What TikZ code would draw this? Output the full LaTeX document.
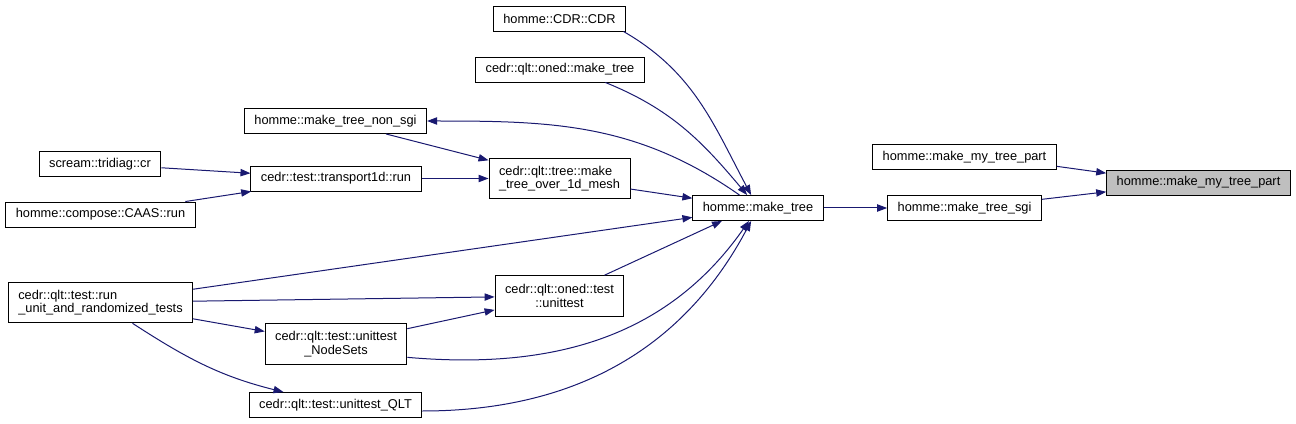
\documentclass[tikz,border=0pt]{standalone}
\usepackage{fontspec}
\setmainfont{Liberation Sans}
\usetikzlibrary{arrows.meta}
\definecolor{edgeblue}{HTML}{191970}
\definecolor{curfill}{HTML}{BFBFBF}
\tikzset{
  fn/.style={draw=black, line width=0.7pt, fill=white, inner xsep=7.5pt, inner ysep=2pt,
    minimum height=18.75pt, font=\fontsize{9.6}{10}\selectfont},
  fntwo/.style={fn, minimum height=30.5pt},
  call/.style={draw=edgeblue, line width=0.75pt, -{Triangle[length=7.5pt,width=5.5pt]}}
}

\begin{document}
\begin{tikzpicture}[x=0.75pt,y=-0.75pt]
  \useasboundingbox (0,0) rectangle (1296,424);
  % functions
  \node[fn,fill=curfill] (cur) at (1198.5,182.5) {homme::make\_my\_tree\_part};
  \node[fn] (mytp) at (964.5,157) {homme::make\_my\_tree\_part};
  \node[fn] (sgi) at (964.5,208) {homme::make\_tree\_sgi};
  \node[fn] (mtree) at (758,208) {homme::make\_tree};
  \node[fn] (cdr) at (559.5,18.5) {homme::CDR::CDR};
  \node[fn] (omake) at (560,69.5) {cedr::qlt::oned::make\_tree};
  \node[fn] (nonsgi) at (335.5,121) {homme::make\_tree\_non\_sgi};
  \node[fntwo,align=left] (mesh) at (559.5,178.5) {cedr::qlt::tree::make\\\_tree\_over\_1d\_mesh};
  \node[fn] (tport) at (336,178.5) {cedr::test::transport1d::run};
  \node[fn] (scream) at (100,164) {scream::tridiag::cr};
  \node[fn] (caas) at (100.5,214.5) {homme::compose::CAAS::run};
  \node[fntwo,align=left] (rununit) at (100.5,302.5) {cedr::qlt::test::run\\\_unit\_and\_randomized\_tests};
  \node[fntwo,align=center] (ounit) at (559.5,296) {cedr::qlt::oned::test\\::unittest};
  \node[fntwo,align=center] (nodesets) at (336,344) {cedr::qlt::test::unittest\\\_NodeSets};
  \node[fn] (qlt) at (335.5,405) {cedr::qlt::test::unittest\_QLT};

  % calls
  \draw[call] ([yshift=-7pt]mytp.east) -- ([yshift=7pt]cur.west);
  \draw[call] ([yshift=6.5pt]sgi.east) -- ([yshift=-7pt]cur.west);
  \draw[call] (mtree) -- (sgi);
  \draw[call] ([xshift=-2pt]cdr.south east) to[out=-30,in=118] (mtree);
  \draw[call] ([xshift=34pt]omake.south) to[out=-22,in=130] (mtree);
  \draw[call] (mtree) to[out=145,in=0] (nonsgi);
  \draw[call] (nonsgi) -- (mesh);
  \draw[call] (mesh) -- (mtree);
  \draw[call] (tport) -- (mesh);
  \draw[call] (scream) -- (tport);
  \draw[call] (caas) -- (tport);
  \draw[call] (rununit) -- (mtree);
  \draw[call] (rununit) -- (ounit);
  \draw[call] (rununit) -- (nodesets);
  \draw[call] (rununit) to[out=-33,in=166] (qlt);
  \draw[call] (ounit) -- ([xshift=-27pt]mtree.south);
  \draw[call] (nodesets) -- (ounit);
  \draw[call] ([yshift=-10pt]nodesets.east) to[out=-5,in=-125] (mtree);
  \draw[call] ([yshift=-4.5pt]qlt.east) to[out=0,in=-118] (mtree);
\end{tikzpicture}
\end{document}
